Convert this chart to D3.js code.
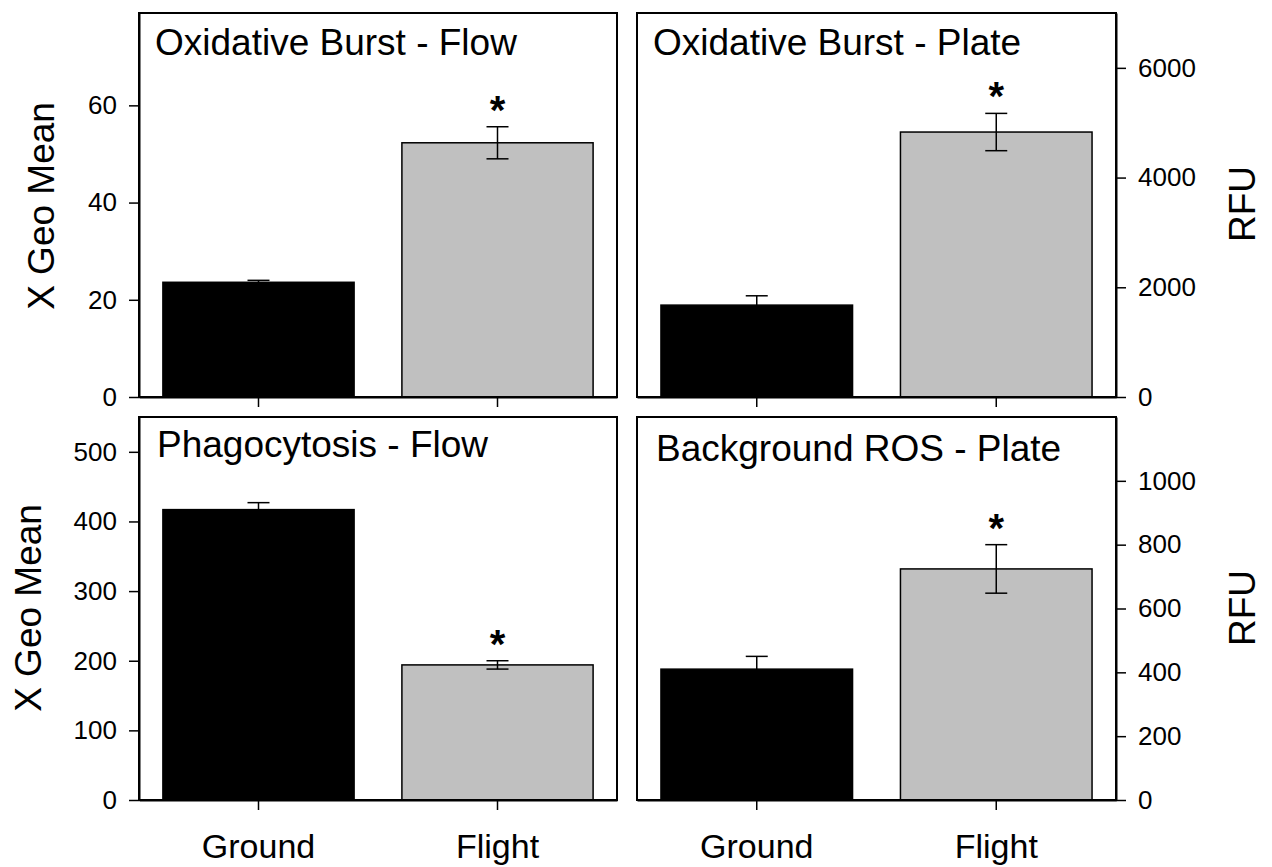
<!DOCTYPE html>
<html>
<head>
<meta charset="utf-8">
<script src="https://cdnjs.cloudflare.com/ajax/libs/d3/7.8.5/d3.min.js"></script>
<style>
  body { margin: 0; background: #fff; }
  svg text { font-family: "Liberation Sans", Arial, sans-serif; fill: #000; }
</style>
</head>
<body>
<svg id="chart" width="1272" height="867"></svg>
<script>
// groups on the x axis
var categories = ["Ground", "Flight"];
var barColors = ["#000000", "#c0c0c0"];

var titles = ["Oxidative Burst - Flow", "Oxidative Burst - Plate", "Phagocytosis - Flow", "Background ROS - Plate"];
var yLabels = ["X Geo Mean", "RFU", "X Geo Mean", "RFU"];

// means and standard errors
var oxFlowMean = [23.6, 52.3],  oxFlowErr = [0.4, 3.3];
var oxPlateMean = [1675, 4830], oxPlateErr = [170, 340];
var phagoMean = [417, 194],     phagoErr = [10, 6];
var rosMean = [410, 724],       rosErr = [40, 76];
var significant = [false, true];

var yMax = [79, 7000, 550, 1200];
var yTicks = [
    [0, 20, 40, 60],
    [0, 2000, 4000, 6000],
    [0, 100, 200, 300, 400, 500],
    [0, 200, 400, 600, 800, 1000]
];

var means = [oxFlowMean, oxPlateMean, phagoMean, rosMean];
var errs = [oxFlowErr, oxPlateErr, phagoErr, rosErr];

// layout of the four panels
var layout = [
    {x0: 139, x1: 617,  y0: 13,  y1: 397, side: "left",  labX: 41,   labY: 206, titleX: 155, titleY: 55,  xLabels: false},
    {x0: 637, x1: 1116, y0: 13,  y1: 397, side: "right", labX: 1242, labY: 204, titleX: 653, titleY: 55,  xLabels: false},
    {x0: 139, x1: 617,  y0: 417, y1: 800, side: "left",  labX: 28,   labY: 608, titleX: 157, titleY: 457, xLabels: true},
    {x0: 637, x1: 1116, y0: 417, y1: 800, side: "right", labX: 1242, labY: 608, titleX: 656, titleY: 461, xLabels: true}
];

var svg = d3.select("#chart");

layout.forEach(function(p, i) {
    var data = categories.map(function(c, j) {
        return {cat: c, mean: means[i][j], err: errs[i][j], sig: significant[j], color: barColors[j]};
    });

    var x = d3.scaleBand()
        .domain(categories)
        .range([p.x0, p.x1])
        .padding(0);

    var y = d3.scaleLinear()
        .domain([0, yMax[i]])
        .range([p.y1, p.y0]);

    var barW = x.bandwidth() * 0.8;
    var capW = 22;

    var g = svg.append("g").attr("class", "panel");

    // bars
    g.selectAll(".bar")
        .data(data)
        .enter().append("rect")
        .attr("class", "bar")
        .attr("x", function(d) { return x(d.cat) + (x.bandwidth() - barW) / 2; })
        .attr("y", function(d) { return y(d.mean); })
        .attr("width", barW)
        .attr("height", function(d) { return y(0) - y(d.mean); })
        .style("fill", function(d) { return d.color; })
        .style("stroke", "#000")
        .style("stroke-width", 1.5);

    // error bars
    var eb = g.selectAll(".err")
        .data(data)
        .enter().append("g")
        .attr("class", "err")
        .style("stroke", "#000")
        .style("stroke-width", 1.5);

    eb.append("line")
        .attr("x1", function(d) { return x(d.cat) + x.bandwidth() / 2; })
        .attr("x2", function(d) { return x(d.cat) + x.bandwidth() / 2; })
        .attr("y1", function(d) { return y(d.mean - d.err); })
        .attr("y2", function(d) { return y(d.mean + d.err); });

    [1, -1].forEach(function(s) {
        eb.append("line")
            .attr("x1", function(d) { return x(d.cat) + x.bandwidth() / 2 - capW / 2; })
            .attr("x2", function(d) { return x(d.cat) + x.bandwidth() / 2 + capW / 2; })
            .attr("y1", function(d) { return y(d.mean + s * d.err); })
            .attr("y2", function(d) { return y(d.mean + s * d.err); });
    });

    // significance stars
    g.selectAll(".star")
        .data(data.filter(function(d) { return d.sig; }))
        .enter().append("text")
        .attr("class", "star")
        .attr("x", function(d) { return x(d.cat) + x.bandwidth() / 2; })
        .attr("y", function(d) { return y(d.mean + d.err) - 26 + 23; })
        .style("text-anchor", "middle")
        .style("font-size", "40px")
        .style("font-weight", "bold")
        .text("*");

    // frame
    g.append("rect")
        .attr("x", p.x0)
        .attr("y", p.y0)
        .attr("width", p.x1 - p.x0)
        .attr("height", p.y1 - p.y0)
        .style("fill", "none")
        .style("stroke", "#000")
        .style("stroke-width", 2);

    // y axis
    var yAxis = (p.side == "left" ? d3.axisLeft(y) : d3.axisRight(y))
        .tickValues(yTicks[i])
        .tickFormat(d3.format("d"))
        .tickSize(10)
        .tickSizeOuter(0)
        .tickPadding(12);

    var ya = g.append("g")
        .attr("class", "y axis")
        .attr("transform", "translate(" + (p.side == "left" ? p.x0 : p.x1) + ",0)")
        .call(yAxis);
    ya.select(".domain").style("stroke-width", 2);
    ya.selectAll(".tick line").style("stroke-width", 1.5);
    ya.selectAll("text")
        .style("font-size", "26px")
        .style("font-family", "'Liberation Sans', Arial, sans-serif")
        .attr("fill", "#000");

    // x axis
    var xAxis = d3.axisBottom(x)
        .tickSize(10)
        .tickSizeOuter(0)
        .tickPadding(24);
    if (!p.xLabels) xAxis.tickFormat("");

    var xa = g.append("g")
        .attr("class", "x axis")
        .attr("transform", "translate(0," + p.y1 + ")")
        .call(xAxis);
    xa.select(".domain").style("stroke-width", 2);
    xa.selectAll(".tick line").style("stroke-width", 1.5);
    xa.selectAll("text")
        .style("font-size", "34px")
        .style("font-family", "'Liberation Sans', Arial, sans-serif")
        .attr("fill", "#000");

    // panel title
    g.append("text")
        .attr("x", p.titleX)
        .attr("y", p.titleY)
        .style("font-size", "37px")
        .text(titles[i]);

    // y axis label
    g.append("text")
        .attr("transform", "translate(" + p.labX + "," + p.labY + ") rotate(-90)")
        .attr("dy", "0.35em")
        .style("text-anchor", "middle")
        .style("font-size", "37px")
        .text(yLabels[i]);
});
</script>
</body>
</html>
